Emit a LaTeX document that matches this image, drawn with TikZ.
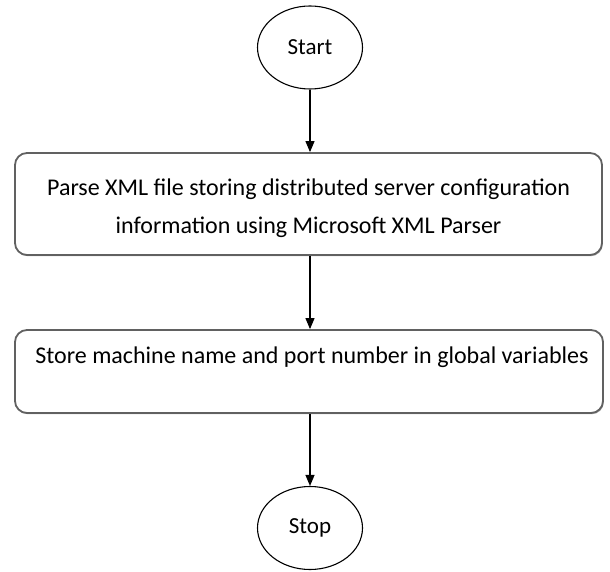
\documentclass[tikz,border=0pt]{standalone}
\usepackage{fontspec}
\setmainfont{Carlito}
\usetikzlibrary{shapes.geometric,arrows.meta,shadows}
\begin{document}
\begin{tikzpicture}[x=1pt,y=-1pt,
  term/.style={ellipse,draw=black,line width=1.1pt,minimum width=105pt,minimum height=83pt,inner sep=0pt,font=\fontsize{23}{27}\selectfont},
  procbox/.style={draw=black!62,line width=1.8pt,rounded corners=12pt,fill=white,
    drop shadow={shadow xshift=0.8pt,shadow yshift=-1.2pt,opacity=0.35,fill=black},inner sep=0pt},
  lbl/.style={font=\fontsize{24}{38}\selectfont,align=center,inner sep=0pt},
  flow/.style={draw=black,line width=1.1pt,-{Triangle[length=11pt,width=9pt]}}]
\useasboundingbox (0,0) rectangle (610,572);
\node[term] (start) at (310,47.5) {Start};
\node[procbox,minimum width=587pt,minimum height=102pt] (b1) at (308.5,204) {};
\node[lbl] (t1) at (308.5,208) {Parse XML file storing distributed server configuration\\information using Microsoft XML Parser};
\node[procbox,minimum width=588pt,minimum height=83pt] (b2) at (309,371.5) {};
\node[lbl] (t2) at (312,357) {Store machine name and port number in global variables};
\node[term] (stop) at (310,528) {Stop};
\draw[flow] (start.south) -- (b1.north -| start.south);
\draw[flow] (b1.south -| start.south) -- (b2.north -| start.south);
\draw[flow] (b2.south -| start.south) -- (stop.north);
\end{tikzpicture}
\end{document}
